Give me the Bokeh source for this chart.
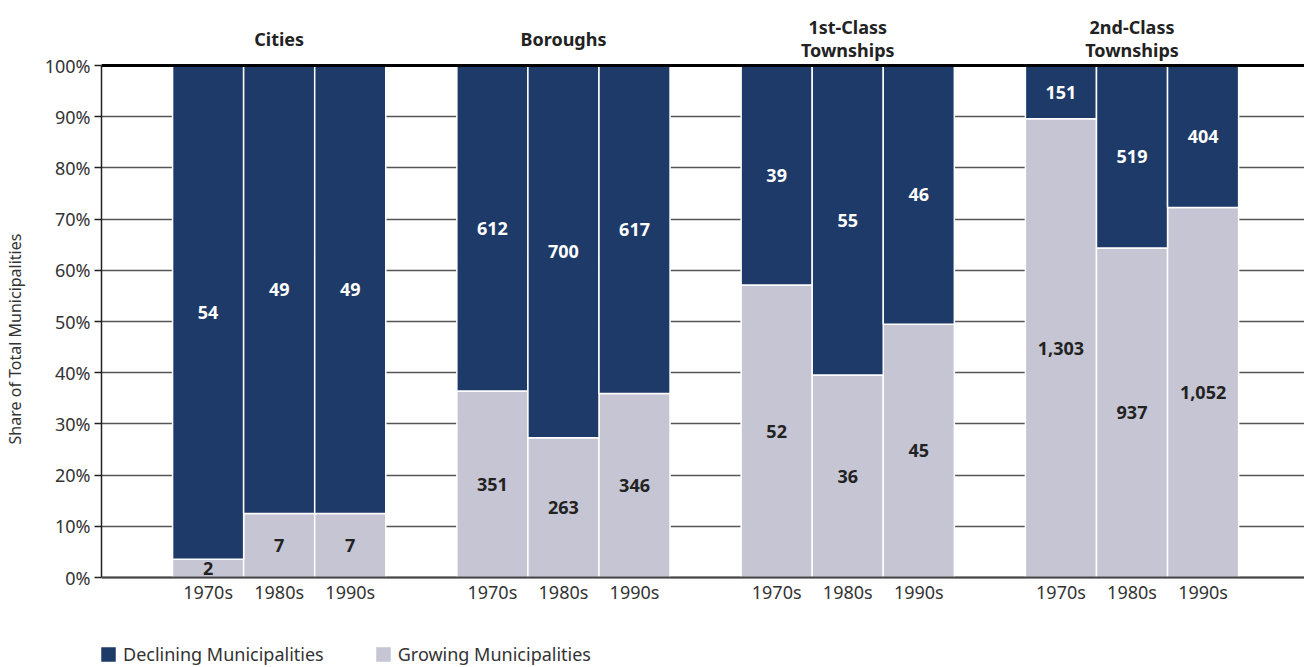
from bokeh.plotting import figure
from bokeh.models import (ColumnDataSource, FixedTicker, Range1d, Span,
                          Legend, LegendItem, PrintfTickFormatter)
from bokeh.core.properties import value
from bokeh.embed import file_html
from bokeh.resources import INLINE

# ---- data ----
groups = ["Cities", "Boroughs", "1st-Class\nTownships", "2nd-Class\nTownships"]
decades = ["1970s", "1980s", "1990s"]
declining_cities = [54, 49, 49]
declining_boroughs = [612, 700, 617]
declining_first = [39, 55, 46]
declining_second = [151, 519, 404]
growing_cities = [2, 7, 7]
growing_boroughs = [351, 263, 346]
growing_first = [52, 36, 45]
growing_second = [1303, 937, 1052]
y_ticks = [0, 10, 20, 30, 40, 50, 60, 70, 80, 90, 100]

declining = [declining_cities, declining_boroughs, declining_first, declining_second]
growing = [growing_cities, growing_boroughs, growing_first, growing_second]

NAVY = "#1e3a69"
GRAY = "#c5c5d4"
FONT = "Noto Sans"

xs, gp, dec_mid, gr_mid, dec_txt, gr_txt, dec_lab = [], [], [], [], [], [], []
for g in range(len(groups)):
    for k in range(len(decades)):
        d = declining[g][k]
        gr = growing[g][k]
        share = 100.0 * gr / (d + gr)
        xs.append(4 * g + k)
        gp.append(share)
        gr_mid.append(share / 2.0)
        dec_mid.append(share + (100.0 - share) / 2.0)
        gr_txt.append(f"{gr:,}")
        dec_txt.append(f"{d:,}")
        dec_lab.append(decades[k])

src = ColumnDataSource(dict(x=xs, gp=gp, top=[100] * len(xs), zero=[0] * len(xs),
                            gr_mid=gr_mid, dec_mid=dec_mid, gr_txt=gr_txt,
                            dec_txt=dec_txt, dec_lab=dec_lab))

W, H = 1304, 667
LEFT, TOP = 101, 10
Y100, Y0 = 65, 577          # pixel rows of 100% and 0%
PX_PER_PCT = (Y0 - Y100) / 100.0
unit = 71.07
x0 = -1.5
ymax = 100 + (Y100 - TOP) / PX_PER_PCT
ymin = -(H - Y0) / PX_PER_PCT

p = figure(width=W, height=H, output_backend="svg", toolbar_location=None,
           x_axis_location=None,
           x_range=Range1d(x0, x0 + (W - LEFT) / unit), y_range=Range1d(ymin, ymax),
           min_border_left=LEFT, min_border_top=TOP, min_border_right=0, min_border_bottom=0)
p.outline_line_color = None
p.background_fill_color = "white"
for grid in p.grid:
    if grid.dimension == 0:
        grid.visible = False
        grid.grid_line_color = None
p.ygrid.ticker = FixedTicker(ticks=y_ticks)
p.ygrid.grid_line_color = "#555555"
p.ygrid.grid_line_width = 1.5

r_gr = p.vbar(x="x", width=1.0, bottom="zero", top="gp", source=src,
              fill_color=GRAY, line_color="white", line_width=1.5)
r_dec = p.vbar(x="x", width=1.0, bottom="gp", top="top", source=src,
               fill_color=NAVY, line_color="white", line_width=1.5)

p.text(x="x", y="gr_mid", text="gr_txt", source=src, text_align="center",
       text_baseline="middle", text_font=value(FONT), text_font_size="18px",
       text_font_style="bold", text_color="#222222")
p.text(x="x", y="dec_mid", text="dec_txt", source=src, text_align="center",
       text_baseline="middle", text_font=value(FONT), text_font_size="18px",
       text_font_style="bold", text_color="white")

# rules at 100% and at the 0% baseline
p.add_layout(Span(location=100, dimension="width", line_color="black", line_width=3))
p.add_layout(Span(location=0, dimension="width", line_color="#444444", line_width=2))

# decade labels below the baseline
p.text(x="x", y="zero", text="dec_lab", source=src, text_align="center",
       text_baseline="top", y_offset=2, text_font=value(FONT), text_font_size="18px",
       text_color="#333333")

# group titles
tsrc = ColumnDataSource(dict(x=[4 * g + 1 for g in range(len(groups))],
                             y=[100] * len(groups), t=groups))
p.text(x="x", y="y", text="t", source=tsrc, text_align="center",
       text_baseline="middle", y_offset=-(Y100 - 38), text_font=value(FONT),
       text_font_size="18px", text_font_style="bold", text_color="#222222",
       text_line_height=0.95)

# y axis
ya = p.yaxis[0]
ya.bounds = (0, 100)
ya.ticker = FixedTicker(ticks=y_ticks)
ya.formatter = PrintfTickFormatter(format="%d%%")
ya.axis_line_color = "#222222"
ya.axis_line_width = 1.5
ya.major_tick_line_color = "#222222"
ya.major_tick_line_width = 1.5
ya.major_tick_out = 7
ya.major_tick_in = 0
ya.minor_tick_line_color = None
ya.major_label_text_font = FONT
ya.major_label_text_font_size = "18px"
ya.major_label_text_color = "#333333"
ya.major_label_standoff = 4
ya.axis_label = "Share of Total Municipalities"
ya.axis_label_text_font = FONT
ya.axis_label_text_font_size = "16px"
ya.axis_label_text_font_style = "normal"
ya.axis_label_text_color = "#333333"
ya.axis_label_standoff = 16

legend = Legend(items=[LegendItem(label="Declining Municipalities", renderers=[r_dec]),
                       LegendItem(label="Growing Municipalities", renderers=[r_gr])],
                location=(-3, 1), orientation="horizontal", border_line_color=None,
                background_fill_alpha=0, padding=0, margin=0, spacing=49,
                glyph_width=20, glyph_height=20, label_standoff=5,
                label_text_font=FONT, label_text_font_size="18px",
                label_text_color="#333333")
p.add_layout(legend)

open("out.html", "w").write(file_html(p, INLINE))
